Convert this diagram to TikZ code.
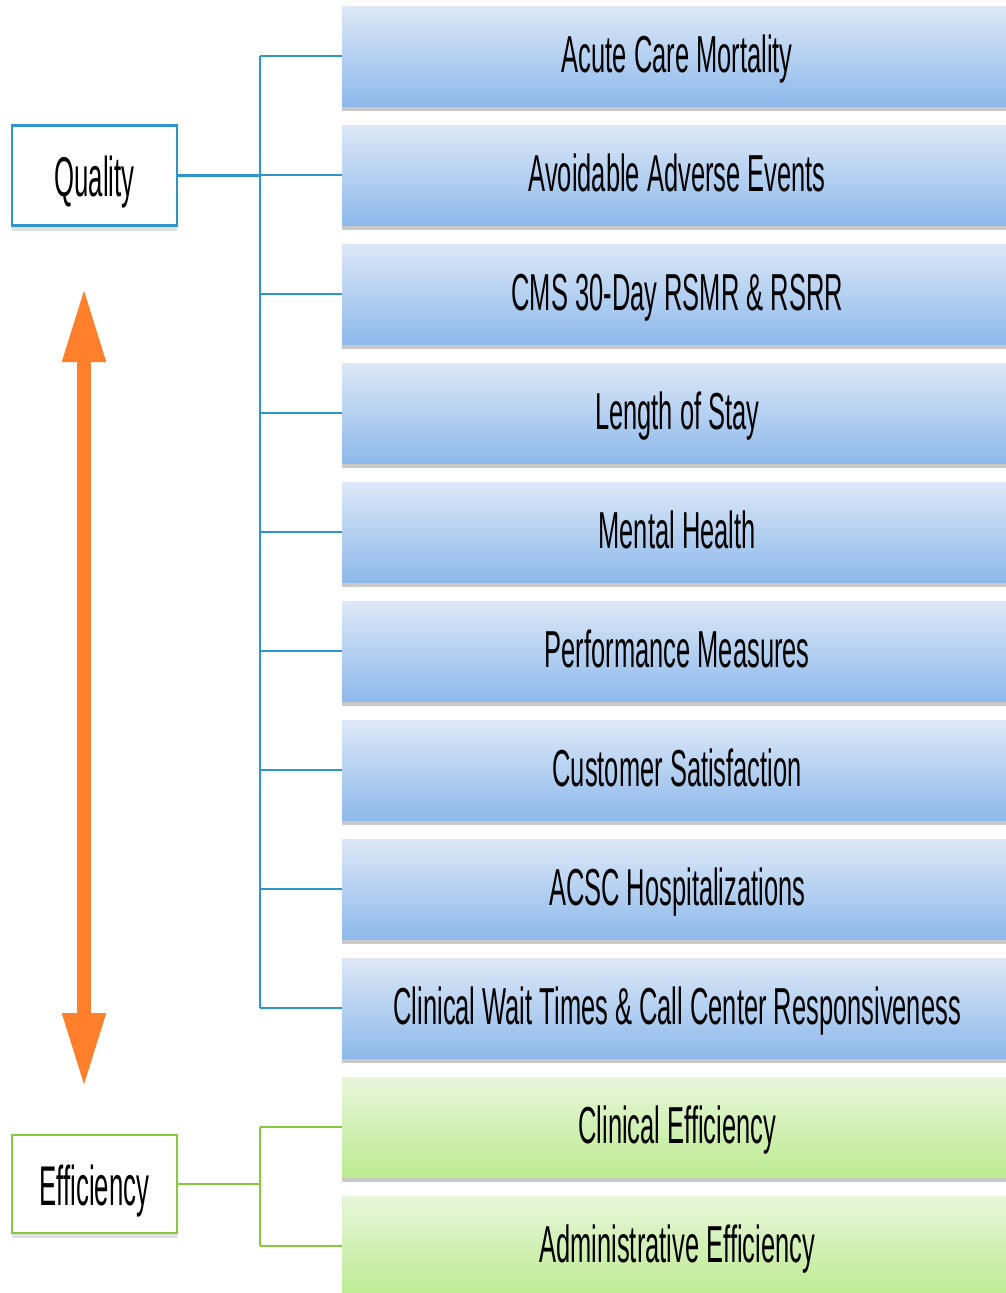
\documentclass[tikz,border=0pt]{standalone}
\usepackage{fontspec}
\newfontfamily\barfont[FakeStretch=0.49]{Liberation Sans}
\newfontfamily\groupfont[FakeStretch=0.46]{Liberation Sans}
\usetikzlibrary{arrows.meta,shadows}
\definecolor{bartop}{RGB}{221,232,247}
\definecolor{barbot}{RGB}{141,185,235}
\definecolor{greentop}{RGB}{232,246,218}
\definecolor{greenbot}{RGB}{188,235,145}
\definecolor{qline}{RGB}{46,150,205}
\definecolor{eline}{RGB}{135,200,60}
\definecolor{arroworange}{RGB}{255,127,42}
\tikzset{
  metric/.style={minimum width=670, minimum height=100, inner sep=0pt, anchor=west,
    text height=43pt, text depth=11pt,
    font=\barfont\fontsize{52}{60}\selectfont,
    drop shadow={shadow xshift=0pt, shadow yshift=-5pt, opacity=0.3, fill=black!70}},
  qmetric/.style={metric, top color=bartop, bottom color=barbot},
  emetric/.style={metric, top color=greentop, bottom color=greenbot},
  group/.style={minimum width=165, minimum height=100, inner sep=0pt, fill=white,
    text height=53pt, text depth=11pt,
    line width=2.5pt, font=\groupfont\fontsize{56}{62}\selectfont,
    drop shadow={shadow xshift=0pt, shadow yshift=-5pt, opacity=0.2, fill=black!60}},
  qlink/.style={draw=qline, line width=2pt},
  elink/.style={draw=eline, line width=2pt}
}
\begin{document}
\begin{tikzpicture}[x=1pt, y=-1pt]
  \useasboundingbox (0,0) rectangle (1006,1293);
  % metric bars
  \node[qmetric] (q1) at (342,56) {Acute Care Mortality};
  \node[qmetric] (q2) at (342,175) {Avoidable Adverse Events};
  \node[qmetric] (q3) at (342,294) {CMS 30-Day RSMR \& RSRR};
  \node[qmetric] (q4) at (342,413) {Length of Stay};
  \node[qmetric] (q5) at (342,532) {Mental Health};
  \node[qmetric] (q6) at (342,651) {Performance Measures};
  \node[qmetric] (q7) at (342,770) {Customer Satisfaction};
  \node[qmetric] (q8) at (342,889) {ACSC Hospitalizations};
  \node[qmetric] (q9) at (342,1008) {Clinical Wait Times \& Call Center Responsiveness};
  \node[emetric] (e1) at (342,1127) {Clinical Efficiency};
  \node[emetric] (e2) at (342,1246) {Administrative Efficiency};
  % group boxes
  \node[group, draw=qline] (quality) at (94.5,175.5) {Quality};
  \node[group, draw=eline, minimum height=98] (efficiency) at (94.5,1184) {Efficiency};
  \coordinate (qbus) at (260,175.5);
  \coordinate (ebus) at (260,1184);
  % connectors
  \begin{scope}[qlink]
    \draw[line width=3pt] (quality.east) -- (qbus);
    \draw (q1.west -| qbus) -- (q9.west -| qbus);
    \draw (q1.west -| qbus) -- (q1.west);
    \draw (q2.west -| qbus) -- (q2.west);
    \draw (q3.west -| qbus) -- (q3.west);
    \draw (q4.west -| qbus) -- (q4.west);
    \draw (q5.west -| qbus) -- (q5.west);
    \draw (q6.west -| qbus) -- (q6.west);
    \draw (q7.west -| qbus) -- (q7.west);
    \draw (q8.west -| qbus) -- (q8.west);
    \draw (q9.west -| qbus) -- (q9.west);
  \end{scope}
  \begin{scope}[elink]
    \draw[line width=2.5pt] (efficiency.east) -- (ebus);
    \draw (e1.west -| ebus) -- (e2.west -| ebus);
    \draw (e1.west -| ebus) -- (e1.west);
    \draw (e2.west -| ebus) -- (e2.west);
  \end{scope}
  % quality / efficiency arrow
  \coordinate (atop) at (84,287);
  \coordinate (abot) at (84,1088);
  \draw[arroworange, line width=14pt,
    {Triangle[width=40pt,length=75pt]}-{Triangle[width=40pt,length=75pt]}] (atop) -- (abot);
\end{tikzpicture}
\end{document}
